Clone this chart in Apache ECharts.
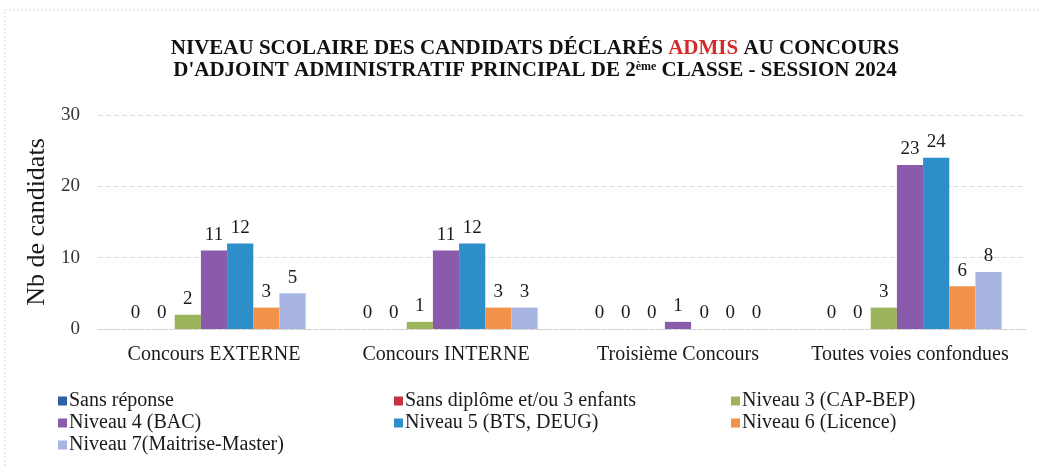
<!DOCTYPE html>
<html>
<head>
<meta charset="utf-8">
<script src="https://cdn.jsdelivr.net/npm/echarts@6/dist/echarts.min.js"></script>
<style>
  html, body { margin: 0; padding: 0; background: #ffffff; }
  #chart { width: 1041px; height: 466px; }
</style>
</head>
<body>
<div id="chart"></div>
<script>
// Categories (voies de concours)
const categories = ['Concours EXTERNE', 'Concours INTERNE', 'Troisième Concours', 'Toutes voies confondues'];

// Nombre de candidats admis par niveau scolaire
const sansReponse = [0, 0, 0, 0];
const sansDiplome = [0, 0, 0, 0];
const niveau3 = [2, 1, 0, 3];
const niveau4 = [11, 11, 1, 23];
const niveau5 = [12, 12, 0, 24];
const niveau6 = [3, 3, 0, 6];
const niveau7 = [5, 3, 0, 8];

const yTicks = [0, 10, 20, 30];

const seriesNames = [
  'Sans réponse',
  'Sans diplôme et/ou 3 enfants',
  'Niveau 3 (CAP-BEP)',
  'Niveau 4 (BAC)',
  'Niveau 5 (BTS, DEUG)',
  'Niveau 6 (Licence)',
  'Niveau 7(Maitrise-Master)'
];
const seriesData = [sansReponse, sansDiplome, niveau3, niveau4, niveau5, niveau6, niveau7];
const colors = ['#2f5fa6', '#c23440', '#9cb55c', '#8a5aab', '#2e8ec9', '#f0924a', '#a8b5e2'];

const SERIF = '"Liberation Serif", "DejaVu Serif", serif';

const chart = echarts.init(document.getElementById('chart'));

const legendCommon = {
  orient: 'vertical',
  itemWidth: 9,
  itemHeight: 9,
  itemGap: 2,
  icon: 'rect',
  textStyle: { fontFamily: SERIF, fontSize: 20, lineHeight: 20, color: '#1a1a1a', padding: [0, 0, 0, -3] }
};

chart.setOption({
  backgroundColor: '#ffffff',
  color: colors,
  animation: false,
  graphic: [{
    type: 'rect',
    shape: { x: 5, y: 10, width: 1100, height: 600 },
    style: { fill: 'none', stroke: '#d6d6d6', lineWidth: 1, lineDash: [2, 2] },
    silent: true
  }],
  title: {
    left: 530,
    textAlign: 'center',
    top: 33,
    text: '{a|NIVEAU SCOLAIRE DES CANDIDATS DÉCLARÉS }{r|ADMIS}{a| AU CONCOURS}\n{a|D\'ADJOINT ADMINISTRATIF PRINCIPAL DE 2}{s|ème}{a| CLASSE - SESSION 2024}',
    textStyle: {
      rich: {
        a: { fontFamily: SERIF, fontWeight: 'bold', fontSize: 21, color: '#111', lineHeight: 22 },
        r: { fontFamily: SERIF, fontWeight: 'bold', fontSize: 21, color: '#d42a2a', lineHeight: 22 },
        s: { fontFamily: SERIF, fontWeight: 'bold', fontSize: 12, color: '#111', lineHeight: 22, padding: [0, 0, 9, 0] }
      }
    }
  },
  legend: [
    Object.assign({ left: 53, top: 386, data: [seriesNames[0], seriesNames[3], seriesNames[6]] }, legendCommon),
    Object.assign({ left: 389, top: 386, data: [seriesNames[1], seriesNames[4]] }, legendCommon),
    Object.assign({ left: 726, top: 386, data: [seriesNames[2], seriesNames[5]] }, legendCommon)
  ],
  grid: { left: 98, right: 15, top: 115, bottom: 137 },
  xAxis: {
    type: 'category',
    data: categories,
    axisLine: { show: true, lineStyle: { color: '#d2d2d2', type: 'dashed' } },
    axisTick: { show: false },
    axisLabel: { interval: 0, fontFamily: SERIF, fontSize: 20, color: '#1a1a1a', margin: 16 }
  },
  yAxis: {
    type: 'value',
    min: yTicks[0],
    max: yTicks[yTicks.length - 1],
    interval: 10,
    name: 'Nb de candidats',
    nameLocation: 'middle',
    nameGap: 44,
    nameTextStyle: { fontFamily: SERIF, fontSize: 26, color: '#1a1a1a' },
    axisLine: { show: false },
    axisTick: { show: false },
    axisLabel: { fontFamily: SERIF, fontSize: 19, color: '#333', margin: 18 },
    splitLine: { lineStyle: { color: '#d8d8d8', type: [5, 3] } }
  },
  series: seriesNames.map((name, i) => ({
    name: name,
    type: 'bar',
    data: seriesData[i],
    barGap: '0%',
    barCategoryGap: '21%',
    label: {
      show: true,
      position: 'top',
      distance: 6,
      fontFamily: SERIF,
      fontSize: 19,
      color: '#1a1a1a'
    }
  }))
});
</script>
</body>
</html>
